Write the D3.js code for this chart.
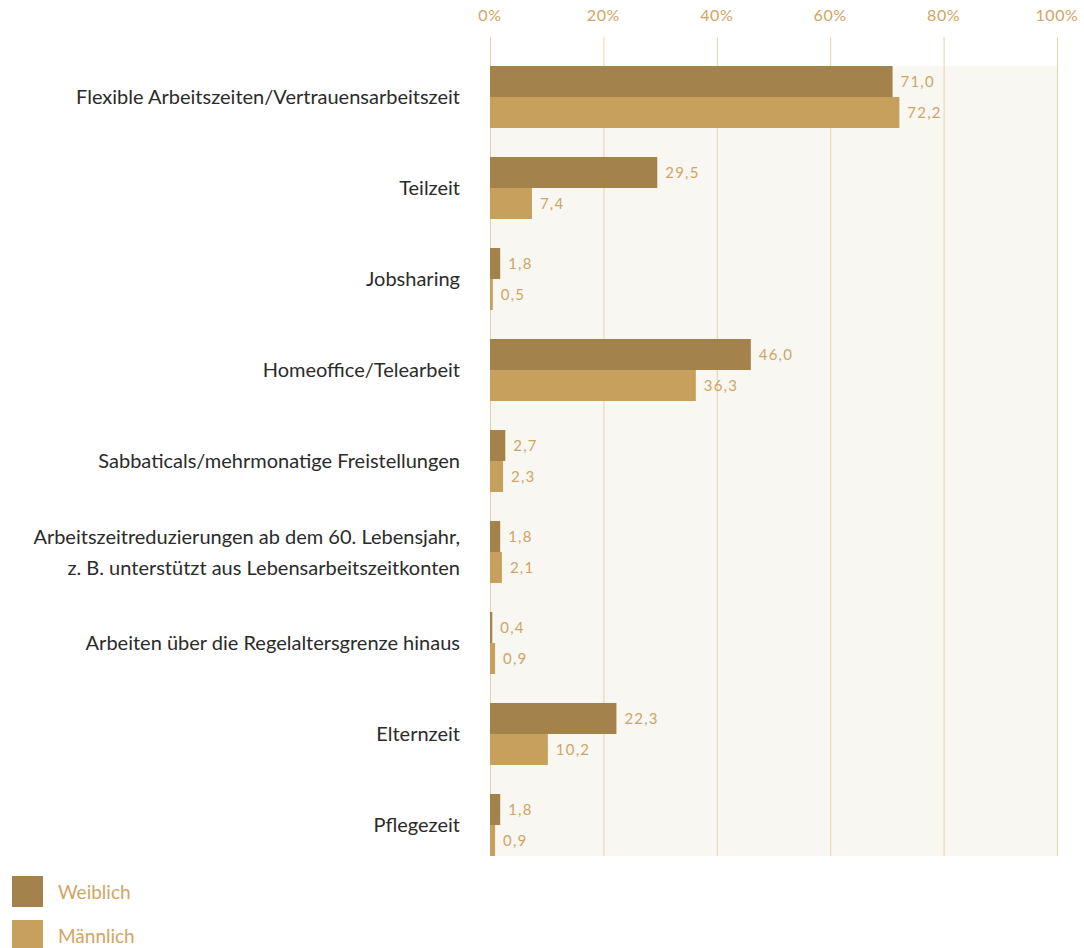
<!DOCTYPE html>
<html>
<head>
<meta charset="utf-8">
<script src="https://cdn.jsdelivr.net/npm/d3@7"></script>
<style>
  body { margin: 0; background: #fff; }
  svg { display: block; font-family: Lato, "Open Sans", sans-serif; }
</style>
</head>
<body>
<svg id="chart" width="1084" height="948"></svg>
<script>
var categories = [
  ["Flexible Arbeitszeiten/Vertrauensarbeitszeit"],
  ["Teilzeit"],
  ["Jobsharing"],
  ["Homeoffice/Telearbeit"],
  ["Sabbaticals/mehrmonatige Freistellungen"],
  ["Arbeitszeitreduzierungen ab dem 60. Lebensjahr,", "z. B. unterstützt aus Lebensarbeitszeitkonten"],
  ["Arbeiten über die Regelaltersgrenze hinaus"],
  ["Elternzeit"],
  ["Pflegezeit"]
];
var weiblich = [71.0, 29.5, 1.8, 46.0, 2.7, 1.8, 0.4, 22.3, 1.8];
var maennlich = [72.2, 7.4, 0.5, 36.3, 2.3, 2.1, 0.9, 10.2, 0.9];
var seriesNames = ["Weiblich", "Männlich"];
var ticks = [0, 20, 40, 60, 80, 100];

var colors = ["#a3834b", "#c8a05e"];
var textGold = "#cfa565";

var svg = d3.select("#chart");
var x = d3.scaleLinear().domain([0, 100]).range([490, 1057]);
// 9 groups, step 91px, bar pair 62px high
var y = d3.scaleBand().domain(d3.range(categories.length))
  .range([66, 66 + 91 * 9 - 29]).paddingInner(29 / 91).paddingOuter(0);
var yInner = d3.scaleBand().domain([0, 1]).range([0, y.bandwidth()]);

var panelTop = 66, panelBottom = y(categories.length - 1) + y.bandwidth();

// background panel
svg.append("rect")
  .attr("x", x(0)).attr("y", panelTop)
  .attr("width", x(100) - x(0)).attr("height", panelBottom - panelTop)
  .attr("fill", "#f9f7f2");

// grid
svg.append("g").selectAll("line").data(ticks).enter().append("line")
  .attr("x1", d => x(d) + 0.5).attr("x2", d => x(d) + 0.5)
  .attr("y1", 37).attr("y2", panelBottom)
  .attr("stroke", "#e8d2ab").attr("stroke-width", 1);

svg.append("g").selectAll("text").data(ticks).enter().append("text")
  .attr("x", d => x(d)).attr("y", 21)
  .attr("text-anchor", "middle")
  .attr("fill", textGold).attr("font-size", 16).attr("letter-spacing", 0.6)
  .text(d => d + "%");

var rows = categories.map(function(c, i) {
  return { label: c, values: [weiblich[i], maennlich[i]], i: i };
});

var g = svg.append("g").selectAll("g").data(rows).enter().append("g")
  .attr("transform", d => "translate(0," + y(d.i) + ")");

g.selectAll("rect").data(d => d.values).enter().append("rect")
  .attr("x", x(0))
  .attr("y", (v, j) => yInner(j))
  .attr("width", v => x(v) - x(0))
  .attr("height", yInner.bandwidth())
  .attr("fill", (v, j) => colors[j]);

g.selectAll("text.val").data(d => d.values).enter().append("text")
  .attr("class", "val")
  .attr("x", v => x(v) + 8)
  .attr("y", (v, j) => yInner(j) + yInner.bandwidth() / 2 + 5)
  .attr("fill", textGold).attr("font-size", 15).attr("letter-spacing", 1.2)
  .text(v => d3.format(".1f")(v).replace(".", ","));

g.append("text")
  .attr("text-anchor", "end")
  .attr("fill", "#2b2b2b").attr("font-size", 20)
  .each(function(d) {
    var t = d3.select(this);
    var n = d.label.length;
    d.label.forEach(function(line, k) {
      t.append("tspan")
        .attr("x", 460)
        .attr("y", y.bandwidth() / 2 + 7 + (k - (n - 1) / 2) * 31)
        .text(line);
    });
  });

// legend
var leg = svg.append("g").selectAll("g").data(seriesNames).enter().append("g")
  .attr("transform", (d, i) => "translate(12," + (876 + i * 44) + ")");
leg.append("rect").attr("width", 31).attr("height", 31).attr("fill", (d, i) => colors[i]);
leg.append("text").attr("x", 46).attr("y", 23)
  .attr("fill", textGold).attr("font-size", 19)
  .text(d => d);
</script>
</body>
</html>
